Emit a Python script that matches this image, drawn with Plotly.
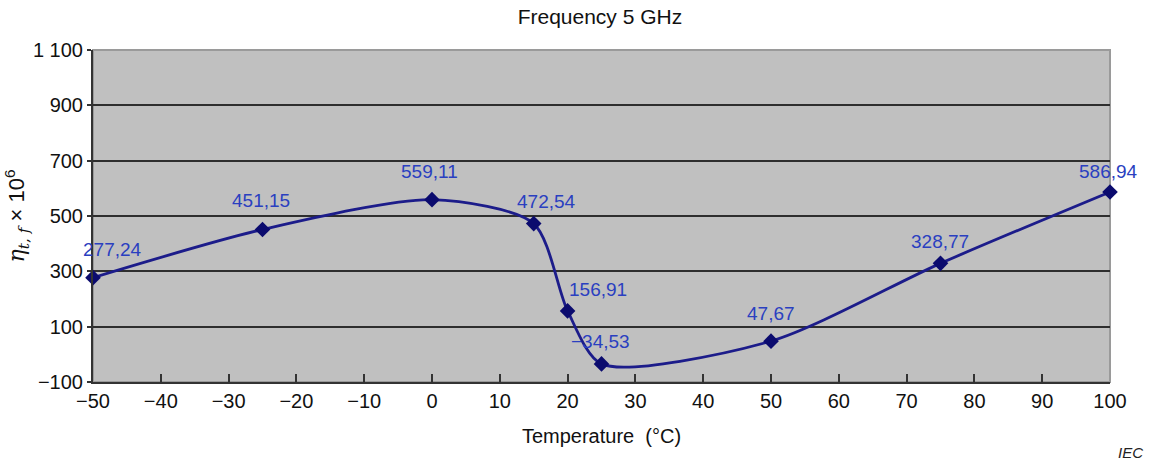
import plotly.graph_objects as go

temps = [-50, -25, 0, 15, 20, 25, 50, 75, 100]
eta = [277.24, 451.15, 559.11, 472.54, 156.91, -34.53, 47.67, 328.77, 586.94]
point_labels = ["277,24", "451,15", "559,11", "472,54", "156,91", "\u221234,53", "47,67", "328,77", "586,94"]

x_ticks = list(range(-50, 101, 10))
x_ticktext = [("\u2212" + str(-v)) if v < 0 else str(v) for v in x_ticks]
y_ticks = [-100, 100, 300, 500, 700, 900, 1100]
y_ticktext = ["\u2212100", "100", "300", "500", "700", "900", "1 100"]

label_shift = [(19, 28), (-2, 29), (-3, 28), (13, 22), (30, 21), (-1, 22), (0, 28), (-1, 22), (-2, 20)]

FONT = "Liberation Sans, Arial, sans-serif"

fig = go.Figure()
fig.add_trace(go.Scatter(
    x=temps, y=eta, mode="lines+markers",
    line=dict(color="#1c1c8a", width=2.8, shape="spline", smoothing=0.75),
    marker=dict(symbol="diamond", size=12, color="#0b0b6e"),
    cliponaxis=False, showlegend=False, hoverinfo="x+y",
))

for xv, yv, lab, (dx, dy) in zip(temps, eta, point_labels, label_shift):
    fig.add_annotation(x=xv, y=yv, text=lab, showarrow=False,
                       xshift=dx, yshift=dy,
                       font=dict(family=FONT, size=19, color="#2a3fc0"))

fig.add_annotation(xref="paper", yref="paper", x=1.0, y=-0.212, xanchor="left", yanchor="middle",
                   text="<i>IEC</i>", showarrow=False,
                   font=dict(family=FONT, size=15, color="#222"), xshift=6)

# plot border (light grey top/right)
fig.add_shape(type="rect", xref="paper", yref="paper", x0=0, y0=0, x1=1, y1=1,
              line=dict(color="#9a9a9a", width=2), layer="below")

fig.update_layout(
    width=1150, height=461,
    margin=dict(l=93, r=40, t=50, b=79),
    paper_bgcolor="white", plot_bgcolor="#c0c0c0",
    font=dict(family=FONT, size=20, color="#111"),
    title=dict(text="Frequency 5 GHz", x=0.5217, xanchor="center", y=0.963, yanchor="middle",
               font=dict(family=FONT, size=21, color="#111")),
    xaxis=dict(range=[-50, 100], tickvals=x_ticks, ticktext=x_ticktext,
               showgrid=False, zeroline=False,
               showline=True, linecolor="#333", linewidth=2,
               ticks="inside", ticklen=8, tickwidth=2, tickcolor="#333",
               tickfont=dict(size=20),
               title=dict(text="Temperature  (°C)", font=dict(size=20), standoff=18)),
    yaxis=dict(range=[-100, 1100], tickvals=y_ticks, ticktext=y_ticktext,
               showgrid=True, gridcolor="#2e2e2e", gridwidth=2, zeroline=False,
               showline=True, linecolor="#333", linewidth=2,
               ticks="outside", ticklen=4, tickwidth=2, tickcolor="#333",
               tickfont=dict(size=20),
               title=dict(text="<span style='font-family:DejaVu Serif'><i>η</i><sub><i>t</i>, <i>f</i></sub></span> × 10<sup>6</sup>",
                          font=dict(size=22), standoff=2)),
)

fig.write_html("out.html")
